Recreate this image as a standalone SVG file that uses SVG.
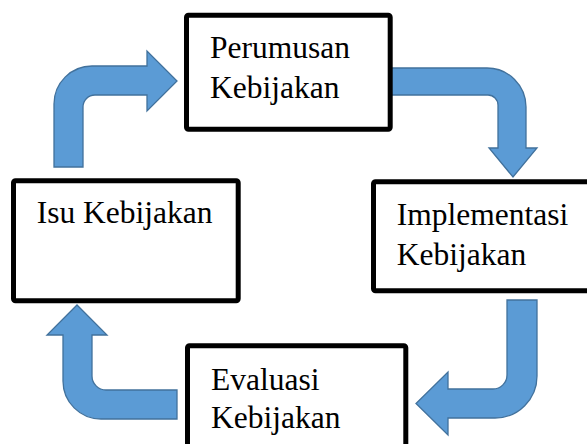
<svg xmlns="http://www.w3.org/2000/svg" width="587" height="444" viewBox="0 0 587 444">
<style>
.arrow{fill:#5B9BD5;stroke:#41719C;stroke-width:1.3;stroke-linejoin:miter}
.box{fill:#FFFFFF;stroke:#000000;stroke-width:5}
.lbl{font-family:"Liberation Serif","Times New Roman",serif;font-size:31.5px;fill:#000000}
</style>
<rect width="587" height="444" fill="#FFFFFF"/>
<g id="connectors">
<path class="arrow" d="M54,167 L54,104 A38,38 0 0 1 92,66 L147,66 L147,51 L177,81 L147,111 L147,95 L95,95 A12,12 0 0 0 83,107 L83,167 Z"/>
<path class="arrow" d="M390,68 L487,68 A39,39 0 0 1 526,107 L526,148 L537,148 L513,177 L489,148 L498,148 L498,105 A10,10 0 0 0 488,95 L390,95 Z"/>
<path class="arrow" d="M507,300 L537,300 L537,376 A42,42 0 0 1 495,418 L448,418 L448,435 L416,403.5 L448,372 L448,389 L493,389 A14,14 0 0 0 507,375 Z"/>
<path class="arrow" d="M177,390 L177,419 L101,419 A38,38 0 0 1 63,381 L63,335 L47,335 L77,305 L107,335 L92,335 L92,376 A14,14 0 0 0 106,390 Z"/>
</g>
<g id="perumusan">
<rect class="box" x="186.5" y="15.2" width="203.7" height="114" rx="2"/>
<text class="lbl" x="210" y="58.3">Perumusan</text>
<text class="lbl" x="210" y="98.3">Kebijakan</text>
</g>
<g id="isu">
<rect class="box" x="13.5" y="180.8" width="224.7" height="120" rx="2"/>
<text class="lbl" x="36.7" y="223.3">Isu Kebijakan</text>
</g>
<g id="implementasi">
<rect class="box" x="373.5" y="181.8" width="230" height="109" rx="2"/>
<text class="lbl" x="396.7" y="225">Implementasi</text>
<text class="lbl" x="396.7" y="265">Kebijakan</text>
</g>
<g id="evaluasi">
<rect class="box" x="187.5" y="345.8" width="218.3" height="120" rx="2"/>
<text class="lbl" x="211" y="390">Evaluasi</text>
<text class="lbl" x="211" y="428.3">Kebijakan</text>
</g>
</svg>
